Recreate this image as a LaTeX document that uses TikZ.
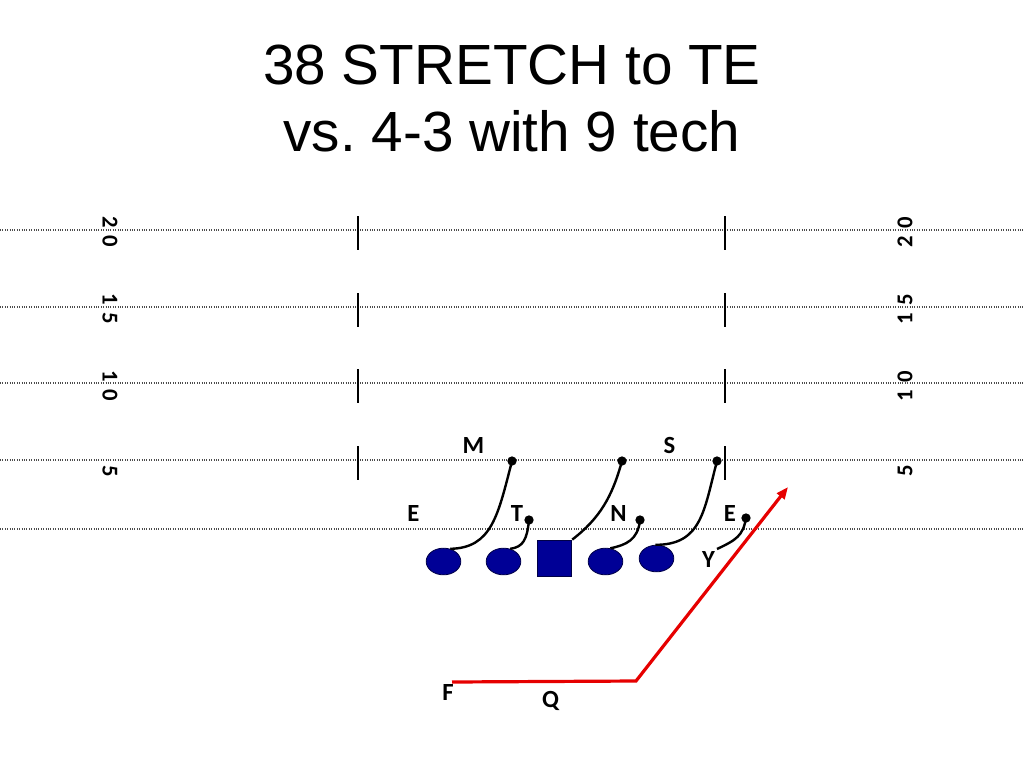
\documentclass[tikz,border=0pt]{standalone}
\usepackage{fontspec}
\setmainfont{Liberation Sans}
\newfontfamily\calib{Carlito}
\usetikzlibrary{shapes.geometric,arrows.meta}
\frenchspacing
\definecolor{offblue}{RGB}{0,0,150}
\definecolor{offedge}{RGB}{0,0,70}
\definecolor{routered}{RGB}{230,0,0}
\newcommand{\dg}[2]{#1\hspace{0.32em}#2}
\tikzset{
  yardline/.style={gray!60!black, densely dotted, line width=0.8pt},
  hashmark/.style={black, line width=1pt},
  ylabL/.style={font=\calib\bfseries\fontsize{17}{17}\selectfont, rotate=-90, inner sep=0pt},
  ylabR/.style={font=\calib\bfseries\fontsize{17}{17}\selectfont, rotate=90, inner sep=0pt},
  oplayer/.style={ellipse, fill=offblue, draw=offedge, line width=0.6pt, minimum width=26pt, minimum height=20pt, inner sep=0pt},
  center/.style={rectangle, fill=offblue, draw=offedge, line width=0.6pt, minimum width=26pt, minimum height=27pt, inner sep=0pt},
  defl/.style={font=\calib\bfseries\fontsize{18.5}{18.5}\selectfont, anchor=base, inner sep=0pt},
  dotn/.style={circle, fill=black, minimum size=7pt, inner sep=0pt},
  route/.style={black, line width=1.8pt},
  redroute/.style={routered, line width=2.4pt},
  title/.style={font=\fontsize{42.5}{42.5}\selectfont, anchor=base, inner sep=0pt}
}
\begin{document}
\begin{tikzpicture}[x=0.75pt,y=-0.75pt]
\useasboundingbox (0,0) rectangle (1024,768);
% title
\node[title] (t1) at (512,84) {38 STRETCH to TE};
\node[title] (t2) at (512,151) {vs. 4-3 with 9 tech};
% yard lines
\foreach \yy in {230,307,383,460,529}{
  \draw[yardline] (0,\yy) -- (1024,\yy);
}
\foreach \yy in {230,307,383,460}{
  \draw[hashmark] (358,\yy-14) -- (358,\yy+20);
  \draw[hashmark] (725,\yy-14) -- (725,\yy+20);
}
% yard numbers
\node[ylabL] (l20) at (110,232) {\dg{2}{0}};
\node[ylabL] (l15) at (110,309) {\dg{1}{5}};
\node[ylabL] (l10) at (110,386) {\dg{1}{0}};
\node[ylabL] (l5) at (110,471) {5};
\node[ylabR] (r20) at (905,232) {\dg{2}{0}};
\node[ylabR] (r15) at (905,309) {\dg{1}{5}};
\node[ylabR] (r10) at (905,386) {\dg{1}{0}};
\node[ylabR] (r5) at (905,471) {5};
% offensive players
\node[oplayer] (o1) at (443.5,561.5) {};
\node[oplayer] (o2) at (503.5,561.5) {};
\node[center] (oc) at (554.5,558) {};
\node[oplayer] (o3) at (605.5,561.5) {};
\node[oplayer] (o4) at (656.5,558.5) {};
% defenders labels
\node[defl] (M) at (473.5,453) {M};
\node[defl] (S) at (669.5,453) {S};
\node[defl] (E1) at (413.5,521) {E};
\node[defl] (T) at (517,521) {T};
\node[defl] (N) at (618.5,521) {N};
\node[defl] (E2) at (730,521) {E};
\node[defl] (Y) at (708.5,567) {Y};
\node[defl] (F) at (448,700) {F};
\node[defl] (Q) at (550.5,707) {Q};
% block points
\node[dotn] (dm) at (512,461) {};
\node[dotn] (dc) at (622,461) {};
\node[dotn] (ds) at (717,461) {};
\node[dotn] (dt) at (529,520) {};
\node[dotn] (dn) at (640,520) {};
\node[dotn] (de) at (746,518) {};
% blocks
\draw[route] (dm.center) .. controls (498,515) and (492,548) .. (o1.62);
\draw[route] (dt.center) .. controls (527,540) and (523,547) .. (o2.62);
\draw[route] (dc.center) .. controls (612,497) and (600,518) .. (oc.north east);
\draw[route] (dn.center) .. controls (638,540) and (626,545) .. (o3.70);
\draw[route] (ds.center) .. controls (704,510) and (702,545) .. (o4.95);
\coordinate (ye) at (717,549);
\draw[route] (de.center) .. controls (743,536) and (736,540) .. (ye);
% QB route
\coordinate (q0) at (452,682);
\coordinate (q1) at (636,681);
\coordinate (q2) at (788,487);
\draw[redroute, -{Triangle[length=9pt,width=7pt]}] (q0) -- (q1) -- (q2);
\end{tikzpicture}
\end{document}
